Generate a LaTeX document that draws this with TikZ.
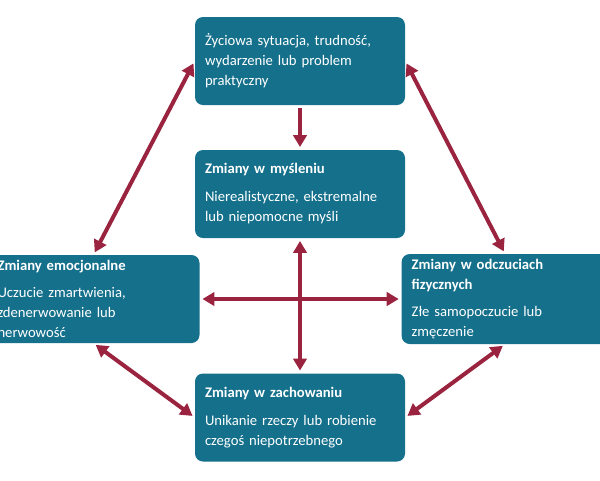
\documentclass[tikz,border=0pt]{standalone}
\usepackage{fontspec}
\setmainfont{Carlito}
\usetikzlibrary{arrows.meta}
\definecolor{boxteal}{HTML}{15708C}
\definecolor{arrowred}{HTML}{9A2440}
\tikzset{
  box/.style={draw=none,fill=boxteal,rounded corners=6pt,text=white,align=left,
    font=\fontsize{11pt}{15pt}\selectfont,inner sep=7.5pt,minimum height=66pt,
    text width=142.5pt},
  side/.style={box,inner ysep=4pt},
  link/.style={draw=arrowred,line width=3pt,{Triangle[length=9pt,width=10pt]}-{Triangle[length=9pt,width=10pt]},shorten <=2pt,shorten >=2pt},
  oneway/.style={link,-{Triangle[length=9pt,width=10pt]}}
}
\begin{document}
\begin{tikzpicture}[x=0.75pt,y=-0.75pt]
\useasboundingbox (0,0) rectangle (600,480);
\clip (0,0) rectangle (600,480);
% boxes
\node[box] (life) at (300,61) {Życiowa sytuacja, trudność,\\wydarzenie lub problem\\praktyczny};
\node[box] (think) at (300,194) {\textbf{Zmiany w myśleniu}\\[6pt]Nierealistyczne, ekstremalne\\lub niepomocne myśli};
\node[side,text width=144pt] (emo) at (93.5,299) {\textbf{Zmiany emocjonalne}\\[5pt]Uczucie zmartwienia,\\zdenerwowanie lub\\nerwowość};
\node[side,text width=140pt] (body) at (505,299) {\textbf{Zmiany w odczuciach}\\\textbf{fizycznych}\\[5pt]Złe samopoczucie lub\\zmęczenie};
\node[box] (act) at (300,417.5) {\textbf{Zmiany w zachowaniu}\\[6pt]Unikanie rzeczy lub robienie\\czegoś niepotrzebnego};
% connectors
\draw[oneway] (life.south) -- (think.north);
\draw[link] (life.west) -- (emo.north);
\draw[link] (life.east) -- (body.north);
\draw[link] (emo.south) -- (act.west);
\draw[link] (body.south) -- (act.east);
\draw[link] (think.south) -- (act.north);
\draw[link] (emo.east) -- (body.west);
\end{tikzpicture}
\end{document}
